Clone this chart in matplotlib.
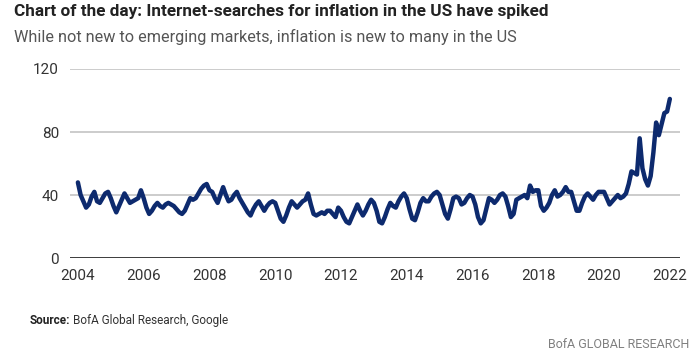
import numpy as np
import matplotlib.pyplot as plt

plt.rcParams['font.family'] = ['Roboto', 'DejaVu Sans']

# 月度搜索指数（Google Trends, 2004-01 ~ 2022-01）
start_year = 2004
searches = [
    48, 40, 36, 32, 34, 39, 42, 36, 35, 38, 41, 42,   # 2004
    38, 33, 29, 33, 37, 41, 38, 35, 36, 37, 38, 43,   # 2005
    38, 32, 28, 30, 33, 35, 33, 32, 34, 35, 34, 33,   # 2006
    31, 29, 28, 30, 34, 38, 37, 38, 41, 44, 46, 47,   # 2007
    43, 42, 38, 35, 40, 45, 40, 36, 37, 40, 42, 38,   # 2008
    35, 32, 29, 27, 31, 34, 36, 33, 30, 33, 35, 36,   # 2009
    35, 30, 25, 23, 27, 32, 36, 34, 32, 34, 36, 37,   # 2010
    41, 34, 28, 27, 28, 29, 28, 30, 30, 28, 26, 32,   # 2011
    30, 26, 23, 22, 26, 30, 34, 30, 27, 30, 34, 37,   # 2012
    35, 30, 23, 22, 26, 31, 35, 33, 32, 36, 39, 41,   # 2013
    38, 31, 25, 24, 29, 35, 38, 36, 36, 39, 41, 42,   # 2014
    40, 34, 28, 25, 31, 38, 39, 38, 34, 35, 38, 40,   # 2015
    39, 34, 26, 22, 24, 31, 38, 37, 35, 37, 40, 41,   # 2016
    39, 33, 26, 28, 37, 38, 39, 40, 38, 46, 42, 43,   # 2017
    43, 33, 30, 32, 35, 40, 43, 39, 40, 42, 45, 42,   # 2018
    42, 36, 30, 30, 35, 39, 41, 39, 37, 40, 42, 42,   # 2019
    42, 38, 34, 36, 38, 40, 38, 39, 41, 47, 55, 54,   # 2020
    53, 76, 57, 50, 46, 52, 67, 86, 78, 85, 92, 93,   # 2021
    101,                                              # 2022
]
x_ticks = list(range(2004, 2023, 2))
y_ticks = [0, 40, 80, 120]

dates = start_year + np.arange(len(searches)) / 12.0

fig = plt.figure(figsize=(7, 3.59), dpi=100)
ax = fig.add_axes([0.1, 0.2813, 0.871, 0.5265])

ax.plot(dates, searches, color='#0d2a6e', lw=3.2, solid_joinstyle='round',
        solid_capstyle='round', zorder=3)

ax.set_xlim(2003.76, 2022.30)
ax.set_ylim(0, 120)
ax.set_xticks(x_ticks)
ax.set_yticks(y_ticks)
ax.tick_params(length=0, labelsize=11, colors='#333333', pad=8)
ax.grid(axis='y', color='#c8c8c8', lw=1.3)
ax.axhline(0, color='#333333', lw=1.3, zorder=2)
for s in ax.spines.values():
    s.set_visible(False)

# 标题
fig.text(0.02, 0.955, 'Chart of the day: Internet-searches for inflation in the US have spiked',
         fontsize=12.3, fontweight='bold', color='#222222', va='baseline')
fig.text(0.02, 0.883, 'While not new to emerging markets, inflation is new to many in the US',
         fontsize=11.7, color='#555555', va='baseline')

# 来源
src = fig.text(0.043, 0.098, 'Source:', fontsize=8.5, fontweight='bold', color='#222222',
               va='baseline')
fig.canvas.draw()
fig.text(src.get_window_extent().x1 / fig.bbox.width + 0.004, 0.098,
         'BofA Global Research, Google', fontsize=8.5, color='#333333', va='baseline')
fig.text(0.985, 0.03, 'BofA GLOBAL RESEARCH', fontsize=9, color='#808080', va='baseline', ha='right')

fig.savefig('out.png', dpi=100)
